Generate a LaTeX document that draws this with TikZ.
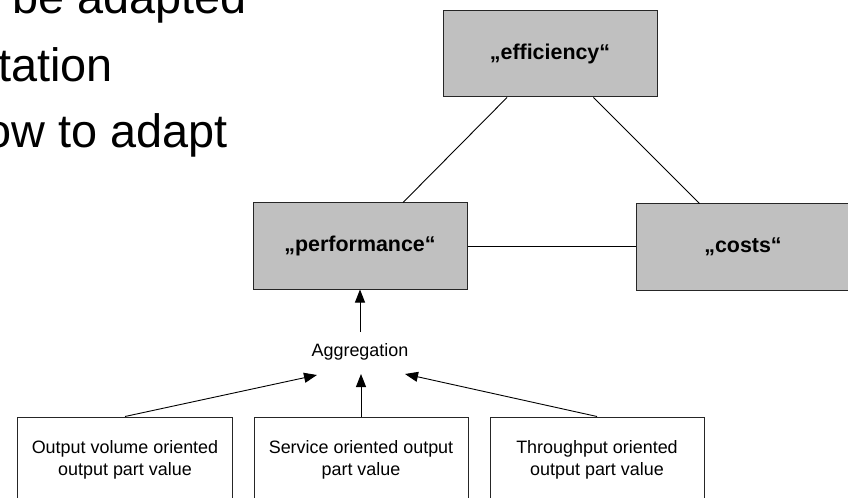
\documentclass[tikz,border=0pt]{standalone}
\usepackage{fontspec}
\setmainfont{Liberation Sans}
\usetikzlibrary{arrows.meta}
\definecolor{boxgray}{RGB}{192,192,192}
\tikzset{
  bigbox/.style={draw=black!85, line width=1bp, fill=boxgray, minimum width=214bp,
    minimum height=86bp, inner sep=0pt, font=\bfseries\fontsize{21.5}{26}\selectfont},
  partbox/.style={draw=black!85, line width=1bp, fill=white, minimum width=214bp,
    minimum height=86bp, inner sep=0pt, align=center, font=\fontsize{18}{22}\selectfont},
  link/.style={draw=black, line width=0.9bp},
  feed/.style={link, -{Triangle[length=13bp,width=10bp]}},
  slidetext/.style={inner sep=0pt, font=\fontsize{47}{56}\selectfont}
}
\begin{document}
\begin{tikzpicture}[x=1bp,y=-1bp]
\useasboundingbox (0,0) rectangle (848,498);
\clip (0,0) rectangle (848,498);
\fill[white] (0,0) rectangle (848,498);

% slide text on the left
\node[slidetext, anchor=base west] (t1) at (12,14) {be adapted};
\node[slidetext, anchor=base west] (t2) at (-2,82) {tation};
\node[slidetext, anchor=base east] (t3) at (228,148) {ow to adapt};

% triangle of target figures
\node[bigbox] (eff)  at (550,54)  {„efficiency“};
\node[bigbox] (perf) at (360,246) {„performance“};
\node[bigbox] (cost) at (743,247) {„costs“};

\draw[link] (eff) -- (perf);
\draw[link] (eff) -- (cost);
\draw[link] (perf.east) -- (perf.east -| cost.west);

% aggregation of the part values
\node[inner sep=0pt, font=\fontsize{18}{22}\selectfont] (agg) at (360,352) {Aggregation};
\coordinate (aggtop) at (360,332);
\coordinate (aggL) at (317,375);
\coordinate (aggM) at (361,374);
\coordinate (aggR) at (405,374);

\draw[feed] (aggtop) -- (perf.south);

\node[partbox] (pv1) at (125,460) {Output volume oriented\\output part value};
\node[partbox] (pv2) at (361,460) {Service oriented output\\part value};
\node[partbox] (pv3) at (597,460) {Throughput oriented\\output part value};

\draw[feed] (pv1.north) -- (aggL);
\draw[feed] (pv2.north) -- (aggM);
\draw[feed] (pv3.north) -- (aggR);
\end{tikzpicture}
\end{document}
